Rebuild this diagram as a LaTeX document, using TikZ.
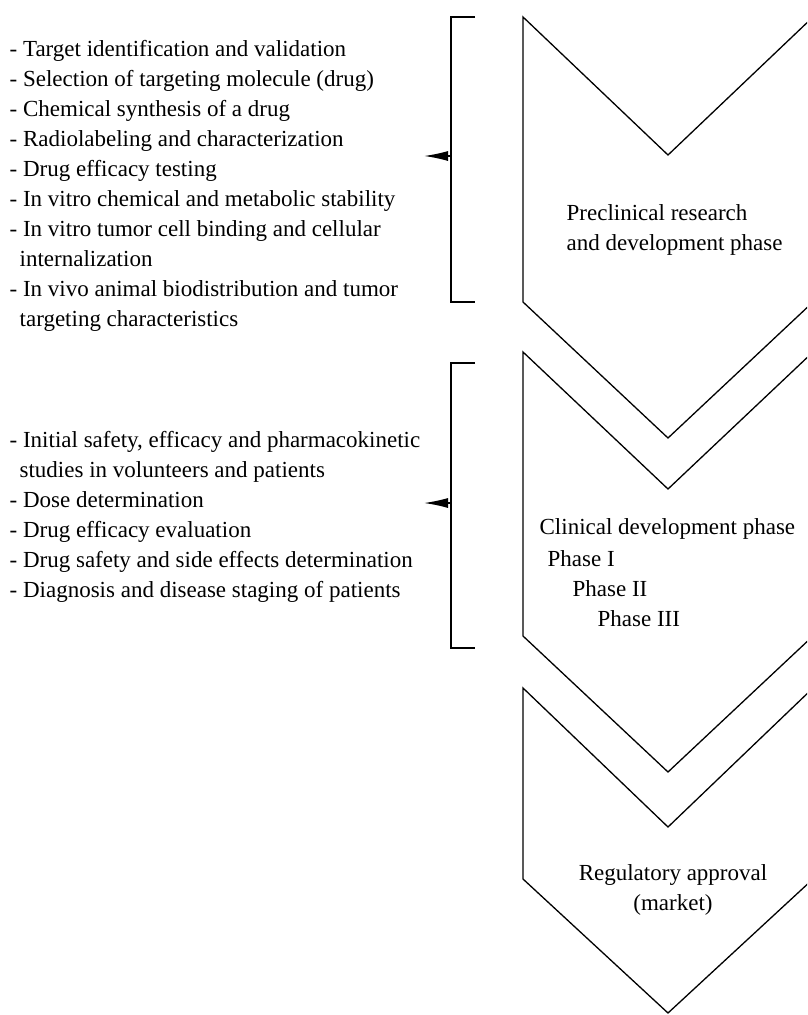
\documentclass[tikz,border=0pt]{standalone}
\usepackage{fontspec}
\setmainfont{Liberation Serif}
\usetikzlibrary{arrows.meta}
\begin{document}
\begin{tikzpicture}[x=1pt, y=-1pt, line width=1.3pt,
  list text/.style={anchor=base west, inner sep=0pt, align=left, font=\fontsize{23}{30}\selectfont},
  phase text/.style={inner sep=0pt, font=\fontsize{23}{30}\selectfont},
  pointer/.style={-{Latex[length=24pt,width=10pt]}}]
\clip (0,0) rectangle (807,1015);
% chevrons
\draw (523,17) -- (668,155) -- (813,17) -- (813,302) -- (668,438) -- (523,302) -- cycle;
\draw (523,352) -- (668,489) -- (813,352) -- (813,636) -- (668,772) -- (523,636) -- cycle;
\draw (523,688) -- (668,827) -- (813,688) -- (813,879) -- (668,1013) -- (523,879) -- cycle;
% brackets
\draw (475,17) -- (451,17) -- (451,302) -- (475,302);
\draw (475,363) -- (451,363) -- (451,648) -- (475,648);
\coordinate (b1) at (451,156);
\coordinate (b2) at (451,503);
\coordinate (t1) at (424,156);
\coordinate (t2) at (424,503);
% lists (anchored at the baseline of the last line)
\begin{scope}[every node/.style={list text}]
\node (pre) at (9,326) {- Target identification and validation\\
- Selection of targeting molecule (drug)\\
- Chemical synthesis of a drug\\
- Radiolabeling and characterization\\
- Drug efficacy testing\\
- In vitro chemical and metabolic stability\\
- In vitro tumor cell binding and cellular\\
\hspace*{10pt}internalization\\
- In vivo animal biodistribution and tumor\\
\hspace*{10pt}targeting characteristics};
\node (cli) at (9,597) {- Initial safety, efficacy and pharmacokinetic\\
\hspace*{10pt}studies in volunteers and patients\\
- Dose determination\\
- Drug efficacy evaluation\\
- Drug safety and side effects determination\\
- Diagnosis and disease staging of patients};
\end{scope}
\node [phase text, anchor=base west, align=left] (ph1) at (566,250) {Preclinical research\\and development phase};
\node [phase text, anchor=base west] (ph2) at (539,534) {Clinical development phase};
\node [phase text, anchor=base west] (ph2a) at (547,566) {Phase I};
\node [phase text, anchor=base west] (ph2b) at (572,596) {Phase II};
\node [phase text, anchor=base west] (ph2c) at (597,626) {Phase III};
\node [phase text, anchor=base, align=center] (ph3) at (673,910) {Regulatory approval\\(market)};
\path [pointer]
    (b1) edge (t1)
    (b2) edge (t2)
         ;
\end{tikzpicture}
\end{document}
